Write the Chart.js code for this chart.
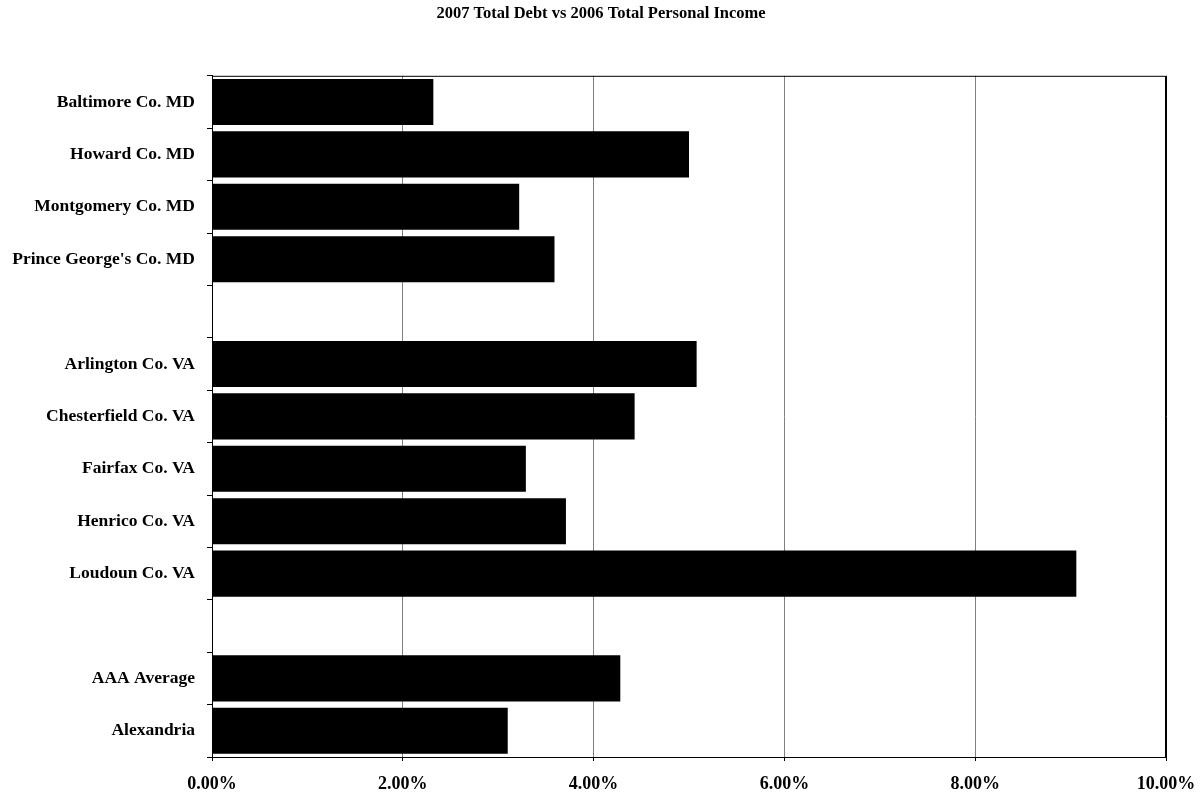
<!DOCTYPE html>
<html>
<head>
<meta charset="utf-8">
<title>2007 Total Debt vs 2006 Total Personal Income</title>
<script src="https://cdn.jsdelivr.net/npm/chart.js@4/dist/chart.umd.min.js"></script>
<style>
  html, body { margin: 0; padding: 0; background: #fff; }
  #wrap { width: 1203px; height: 796px; }
</style>
</head>
<body>
<div id="wrap"><canvas id="myChart"></canvas></div>
<script>
// counties, with blank rows separating MD, VA and the averages
const counties = [
  'Baltimore Co. MD', 'Howard Co. MD', 'Montgomery Co. MD', "Prince George's Co. MD",
  '',
  'Arlington Co. VA', 'Chesterfield Co. VA', 'Fairfax Co. VA', 'Henrico Co. VA', 'Loudoun Co. VA',
  '',
  'AAA Average', 'Alexandria'
];
// debt as % of personal income
const debtRatio = [2.32, 5.00, 3.22, 3.59, null, 5.08, 4.43, 3.29, 3.71, 9.06, null, 4.28, 3.10];
const xTicks = [0, 2, 4, 6, 8, 10];

const serif = '"Liberation Serif", "Times New Roman", serif';

// frame around the plot area, and title centred a little right of the canvas middle
const frame = {
  id: 'frame',
  beforeDraw(chart) {
    if (chart.titleBlock) chart.titleBlock.left = 36;
  },
  afterDraw(chart) {
    const a = chart.chartArea, c = chart.ctx;
    c.save();
    c.strokeStyle = '#000';
    c.lineWidth = 1;
    c.strokeRect(a.left + 0.5, a.top + 0.5, a.right - a.left - 1, a.bottom - a.top);
    c.restore();
  }
};

const ctx = document.getElementById('myChart').getContext('2d');
new Chart(ctx, {
  type: 'bar',
  data: {
    labels: counties,
    datasets: [{
      label: 'Debt / Income',
      data: debtRatio,
      backgroundColor: '#000',
      borderWidth: 0,
      barPercentage: 0.88,
      categoryPercentage: 1.0
    }]
  },
  plugins: [frame],
  options: {
    indexAxis: 'y',
    responsive: true,
    maintainAspectRatio: false,
    animation: false,
    layout: { padding: { left: 0, right: 37, top: 0, bottom: 0 } },
    plugins: {
      legend: { display: false },
      tooltip: { enabled: false },
      title: {
        display: true,
        text: '2007 Total Debt vs 2006 Total Personal Income',
        color: '#000',
        font: { family: serif, size: 16.5, weight: 'bold' },
        padding: { top: 4, bottom: 52 }
      }
    },
    scales: {
      x: {
        min: 0,
        max: 10,
        afterBuildTicks(scale) {
          scale.ticks = xTicks.map(v => ({ value: v }));
        },
        afterFit(scale) {
          scale.height = 39;
          scale.paddingLeft = 0;
          scale.paddingRight = 0;
        },
        grid: {
          color: c => (c.tick && c.tick.value === 10 ? '#000' : '#808080'),
          tickColor: '#000',
          tickLength: 4,
          lineWidth: 1
        },
        border: { color: '#000', width: 1 },
        ticks: {
          color: '#000',
          padding: 13,
          maxRotation: 0,
          font: { family: serif, size: 18, weight: 'bold' },
          callback: v => v.toFixed(2) + '%'
        }
      },
      y: {
        afterFit(scale) {
          scale.width = 212;
          scale.paddingTop = 0;
          scale.paddingBottom = 0;
        },
        grid: {
          offset: true,
          drawOnChartArea: false,
          color: '#000',
          tickLength: 5
        },
        border: { color: '#000', width: 1 },
        ticks: {
          color: '#000',
          padding: 12,
          autoSkip: false,
          font: { family: serif, size: 17.5, weight: 'bold' }
        }
      }
    }
  }
});
</script>
</body>
</html>
